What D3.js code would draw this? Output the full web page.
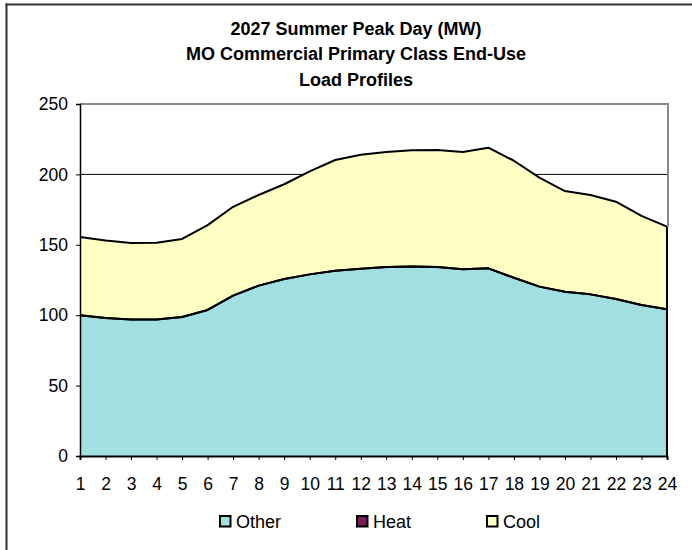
<!DOCTYPE html>
<html>
<head>
<meta charset="utf-8">
<script src="https://cdn.jsdelivr.net/npm/d3@7/dist/d3.min.js"></script>
<style>
  html, body { margin: 0; padding: 0; background: #fff; }
  svg { display: block; }
  text { font-family: Arial, "Liberation Sans", sans-serif; fill: #000; }
</style>
</head>
<body>
<svg id="chart" width="692" height="550"></svg>
<script>
// Hour of the day (1-24)
const hours = d3.range(1, 25);

// End-use loads in MW, stacked: Other, Heat, Cool
const otherLoad = [100, 98, 97, 97, 98.7, 103.7, 113.9, 121, 125.7, 129, 131.6, 133,
                   134.2, 134.5, 134.2, 132.6, 133.3, 126.6, 120.3, 116.7, 114.8, 111.5, 107.2, 104.2];
const heatLoad  = [0, 0, 0, 0, 0, 0, 0, 0, 0, 0, 0, 0,
                   0, 0, 0, 0, 0, 0, 0, 0, 0, 0, 0, 0];
const coolLoad  = [55.6, 55, 54.3, 54.5, 55.5, 60.3, 63.1, 64.4, 67.3, 73.2, 78.6, 80.9,
                   81.7, 82.6, 83.1, 83.3, 85.7, 83.1, 77.4, 71.5, 70.6, 69.1, 63.3, 58.7];

const seriesNames = ["Other", "Heat", "Cool"];
const seriesColors = ["#A2DFE0", "#7B1C5C", "#FFFFC4"];
const yTicks = [0, 50, 100, 150, 200, 250];
const titleLines = ["2027 Summer Peak Day (MW)", "MO Commercial Primary Class End-Use", "Load Profiles"];

const rows = hours.map((h, i) => ({ hour: h, Other: otherLoad[i], Heat: heatLoad[i], Cool: coolLoad[i] }));

const svg = d3.select("#chart");

// Outer chart frame (left and top edges)
svg.append("line").attr("x1", 6.5).attr("x2", 6.5).attr("y1", 3.5).attr("y2", 550)
  .attr("stroke", "#333").attr("stroke-width", 2);
svg.append("line").attr("x1", 5.5).attr("x2", 692).attr("y1", 4.5).attr("y2", 4.5)
  .attr("stroke", "#333").attr("stroke-width", 2);

const plot = { left: 80, right: 667, top: 104, bottom: 456 };

const x = d3.scalePoint().domain(hours).range([plot.left, plot.right]);
const y = d3.scaleLinear().domain([0, 250]).range([plot.bottom, plot.top]);

// Title
svg.append("g").selectAll("text").data(titleLines).join("text")
  .attr("x", 356).attr("y", (d, i) => 34.5 + i * 25.5)
  .attr("text-anchor", "middle")
  .style("font-size", "18px").style("font-weight", "bold")
  .text(d => d);

// Gridlines behind the areas
svg.append("g").selectAll("line").data(yTicks.filter(t => t > 0 && t < 250)).join("line")
  .attr("x1", plot.left).attr("x2", plot.right)
  .attr("y1", d => y(d)).attr("y2", d => y(d))
  .attr("stroke", "#000").attr("stroke-width", 1);

// Stacked areas
const stack = d3.stack().keys(seriesNames);
const layers = stack(rows);

const area = d3.area()
  .x(d => x(d.data.hour))
  .y0(d => y(d[0]))
  .y1(d => y(d[1]));
const topLine = d3.line()
  .x(d => x(d.data.hour))
  .y(d => y(d[1]));

const g = svg.append("g");
g.selectAll("path.area").data(layers).join("path")
  .attr("class", "area")
  .attr("d", area)
  .attr("fill", (d, i) => seriesColors[i]);
g.selectAll("path.edge").data(layers).join("path")
  .attr("class", "edge")
  .attr("d", topLine)
  .attr("fill", "none")
  .attr("stroke", "#000").attr("stroke-width", 2)
  .attr("stroke-linejoin", "round");

const lastTotal = layers[2][hours.length - 1][1];
// right-hand edge of the stack
g.append("line")
  .attr("x1", plot.right).attr("x2", plot.right)
  .attr("y1", y(0)).attr("y2", y(lastTotal))
  .attr("stroke", "#000").attr("stroke-width", 2);

// Plot area border (top and right)
svg.append("path")
  .attr("d", `M${plot.left},${plot.top}H${plot.right + 1}V${y(lastTotal)}`)
  .attr("fill", "none").attr("stroke", "#888").attr("stroke-width", 2);

// Axes
const yAxis = d3.axisLeft(y).tickValues(yTicks).tickSize(4).tickPadding(8);
const yg = svg.append("g").attr("transform", `translate(${plot.left},0)`).call(yAxis);
yg.select(".domain").attr("stroke", "#000").attr("stroke-width", 1.5);
yg.selectAll(".tick line").attr("stroke", "#000");
yg.selectAll(".tick text").style("font-size", "17.5px").attr("fill", "#000");

const xAxis = d3.axisBottom(x).tickSize(4).tickPadding(18);
const xg = svg.append("g").attr("transform", `translate(0,${plot.bottom})`).call(xAxis);
xg.select(".domain").attr("stroke", "#000").attr("stroke-width", 2);
xg.selectAll(".tick line").attr("stroke", "#000");
xg.selectAll(".tick text").style("font-size", "17.5px").attr("fill", "#000");

// Legend
const legendX = [220, 357, 487];
const lg = svg.append("g").selectAll("g").data(seriesNames).join("g")
  .attr("transform", (d, i) => `translate(${legendX[i]},516)`);
lg.append("rect").attr("width", 10.5).attr("height", 10.5)
  .attr("fill", (d, i) => seriesColors[i])
  .attr("stroke", "#000").attr("stroke-width", 2);
lg.append("text").attr("x", 16).attr("y", 11.5)
  .style("font-size", "18px").text(d => d);
</script>
</body>
</html>
